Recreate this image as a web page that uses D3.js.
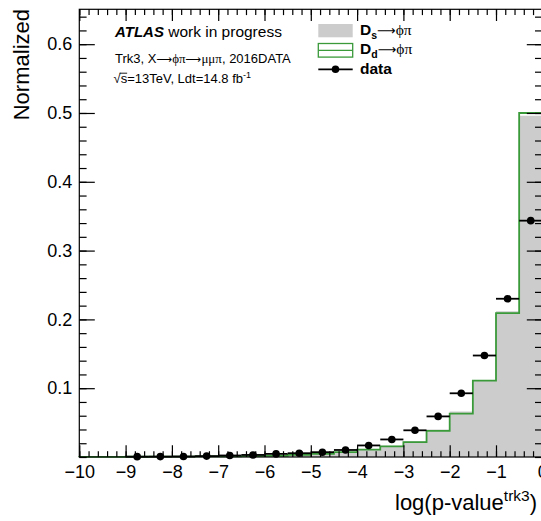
<!DOCTYPE html>
<html>
<head>
<meta charset="utf-8">
<script src="https://cdn.jsdelivr.net/npm/d3@7"></script>
<style>
  html, body { margin: 0; padding: 0; background: #fff; }
  svg { display: block; font-family: "Liberation Sans", Arial, Helvetica, sans-serif; }
  .arrow { font-family: "DejaVu Sans", sans-serif; }
  .greek { font-family: "Liberation Serif", "DejaVu Serif", serif; }
</style>
</head>
<body>
<svg id="chart" width="541" height="521"></svg>
<script>
// Bin lower edges of log(p-value^trk3), width 0.5
const binEdges = [-10, -9.5, -9, -8.5, -8, -7.5, -7, -6.5, -6, -5.5,
                  -5, -4.5, -4, -3.5, -3, -2.5, -2, -1.5, -1, -0.5];
const binWidth = 0.5;

// D_s -> phi pi (grey filled), normalized
const dsValues = [0.0002, 0.0002, 0.0003, 0.0004, 0.0005, 0.0007, 0.0009, 0.0013, 0.0020, 0.0030,
                  0.0048, 0.0075, 0.0115, 0.0165, 0.0230, 0.0400, 0.0660, 0.1120, 0.2120, 0.4960];

// D_d -> phi pi (green outline), normalized
const ddValues = [0.0002, 0.0003, 0.0004, 0.0005, 0.0006, 0.0008, 0.0010, 0.0013, 0.0017, 0.0030,
                  0.0045, 0.0072, 0.0108, 0.0155, 0.0215, 0.0380, 0.0630, 0.1110, 0.2090, 0.5000];

// data points (bin centres from -8.75 to -0.25)
const dataCenters = [-8.75, -8.25, -7.75, -7.25, -6.75, -6.25, -5.75, -5.25, -4.75,
                     -4.25, -3.75, -3.25, -2.75, -2.25, -1.75, -1.25, -0.75, -0.25];
const dataValues = [0.0005, 0.0006, 0.0008, 0.0013, 0.0022, 0.0030, 0.0045, 0.0055, 0.0070,
                    0.0102, 0.0168, 0.0255, 0.0388, 0.0590, 0.0926, 0.1475, 0.2300, 0.3435];

const xMajorTicks = [-10, -9, -8, -7, -6, -5, -4, -3, -2, -1, 0];
const yMajorTicks = [0.1, 0.2, 0.3, 0.4, 0.5, 0.6];

const svg = d3.select("#chart");
const frame = { left: 79.3, right: 542.3, top: 9.3, bottom: 457 };

const x = d3.scaleLinear().domain([-10, 0]).range([frame.left, frame.right]);
const y = d3.scaleLinear().domain([0, 0.6507]).range([frame.bottom, frame.top]);

const grey = "#cccccc";
const green = "#3a9a3a";

// step outline points for a histogram
function stepPoints(values) {
  const pts = [[binEdges[0], 0]];
  values.forEach((v, i) => pts.push([binEdges[i], v]));
  pts.push([binEdges[binEdges.length - 1] + binWidth, values[values.length - 1]]);
  pts.push([binEdges[binEdges.length - 1] + binWidth, 0]);
  return pts;
}

const plot = svg.append("g");

// grey filled D_s histogram
const area = d3.area()
  .x(d => x(d[0])).y0(y(0)).y1(d => y(d[1]))
  .curve(d3.curveStepAfter);
plot.append("path")
  .datum(stepPoints(dsValues))
  .attr("d", area)
  .attr("fill", grey)
  .attr("stroke", "none");

// green D_d outline
const line = d3.line()
  .x(d => x(d[0])).y(d => y(d[1]))
  .curve(d3.curveStepAfter);
plot.append("path")
  .datum(stepPoints(ddValues))
  .attr("d", line)
  .attr("fill", "none")
  .attr("stroke", green)
  .attr("stroke-width", 1.8);

// frame
svg.append("rect")
  .attr("x", frame.left).attr("y", frame.top)
  .attr("width", frame.right - frame.left).attr("height", frame.bottom - frame.top)
  .attr("fill", "none").attr("stroke", "#000").attr("stroke-width", 1.2);

const fontTick = 18;

function styleAxis(g) {
  g.select(".domain").remove();
  g.selectAll(".tick line").attr("stroke", "#000").attr("stroke-width", 1.2);
  g.selectAll("text").attr("font-size", fontTick).attr("fill", "#000")
    .attr("font-family", "Liberation Sans, Arial, Helvetica, sans-serif");
}

const fmtX = d => (d < 0 ? "\u2212" + Math.abs(d) : String(d));
const xMinor = d3.range(-10, 0.0001, 0.2).map(v => +v.toFixed(2));
const yMinor = d3.range(0, 0.6501, 0.02).map(v => +v.toFixed(2));

// bottom axis
svg.append("g").attr("transform", `translate(0,${frame.bottom})`)
  .call(d3.axisBottom(x).tickValues(xMinor).tickSize(-5.8).tickFormat(""))
  .call(styleAxis);
svg.append("g").attr("transform", `translate(0,${frame.bottom})`)
  .call(d3.axisBottom(x).tickValues(xMajorTicks).tickSizeInner(-11.7).tickSizeOuter(0)
        .tickPadding(8.5).tickFormat(fmtX))
  .call(styleAxis);

// top axis (ticks only)
svg.append("g").attr("transform", `translate(0,${frame.top})`)
  .call(d3.axisTop(x).tickValues(xMinor).tickSize(-5.8).tickFormat(""))
  .call(styleAxis);
svg.append("g").attr("transform", `translate(0,${frame.top})`)
  .call(d3.axisTop(x).tickValues(xMajorTicks).tickSize(-11.7).tickFormat(""))
  .call(styleAxis);

// left axis
svg.append("g").attr("transform", `translate(${frame.left},0)`)
  .call(d3.axisLeft(y).tickValues(yMinor).tickSize(-7.3).tickFormat(""))
  .call(styleAxis);
svg.append("g").attr("transform", `translate(${frame.left},0)`)
  .call(d3.axisLeft(y).tickValues(yMajorTicks).tickSizeInner(-15.5).tickSizeOuter(0)
        .tickPadding(7).tickFormat(d3.format(".1f")))
  .call(styleAxis);

// right axis (ticks only)
svg.append("g").attr("transform", `translate(${frame.right},0)`)
  .call(d3.axisRight(y).tickValues(yMinor).tickSize(-7.3).tickFormat(""))
  .call(styleAxis);
svg.append("g").attr("transform", `translate(${frame.right},0)`)
  .call(d3.axisRight(y).tickValues(yMajorTicks).tickSize(-15.5).tickFormat(""))
  .call(styleAxis);

// data points with bin-width horizontal bars
const dataG = svg.append("g");
dataCenters.forEach((c, i) => {
  dataG.append("line")
    .attr("x1", x(c - binWidth / 2)).attr("x2", x(c + binWidth / 2))
    .attr("y1", y(dataValues[i])).attr("y2", y(dataValues[i]))
    .attr("stroke", "#000").attr("stroke-width", 1.8);
  dataG.append("circle")
    .attr("cx", x(c)).attr("cy", y(dataValues[i]))
    .attr("r", 3.8).attr("fill", "#000");
});

// axis titles
svg.append("text")
  .attr("transform", "translate(29,9) rotate(-90)")
  .attr("text-anchor", "end")
  .attr("font-size", 22)
  .text("Normalized");

const xt = svg.append("text")
  .attr("x", 395).attr("y", 510)
  .attr("font-size", 22);
xt.append("tspan").text("log(p-value");
xt.append("tspan").attr("font-size", 15.5).attr("dy", -9).text("trk3");
xt.append("tspan").attr("dy", 9).text(")");

// label block
const l1 = svg.append("text").attr("x", 115).attr("y", 37.3).attr("font-size", 15.5);
l1.append("tspan").attr("font-weight", "bold").attr("font-style", "italic").attr("font-size", 15).text("ATLAS");
l1.append("tspan").text(" work in progress");

const l2 = svg.append("text").attr("x", 115).attr("y", 62.7).attr("font-size", 13);
l2.append("tspan").text("Trk3, X");
l2.append("tspan").attr("class", "arrow").attr("font-size", 11).text("\u27f6");
l2.append("tspan").attr("class", "greek").text("\u03d5\u03c0");
l2.append("tspan").attr("class", "arrow").attr("font-size", 11).text("\u27f6");
l2.append("tspan").attr("class", "greek").text("\u03bc\u03bc\u03c0");
l2.append("tspan").text(", 2016DATA");

const l3 = svg.append("text").attr("x", 113.5).attr("y", 83.3).attr("font-size", 13);
l3.append("tspan").text("\u221a");
l3.append("tspan").text("s=13TeV, Ldt=14.8 fb");
l3.append("tspan").attr("font-size", 9).attr("dy", -5).text("-1");
// bar over the "s" of the square root
{
  const node = l3.node();
  const e = node.getExtentOfChar(1);
  svg.append("line")
    .attr("x1", e.x - 1).attr("x2", e.x + e.width)
    .attr("y1", 73.2).attr("y2", 73.2)
    .attr("stroke", "#000").attr("stroke-width", 0.9);
}

// legend
const legX0 = 318.3, legX1 = 352.7, legTextX = 360;
svg.append("rect").attr("x", legX0).attr("y", 24).attr("width", legX1 - legX0).attr("height", 13.3)
  .attr("fill", grey);
svg.append("rect").attr("x", legX0).attr("y", 43.5).attr("width", legX1 - legX0).attr("height", 13.6)
  .attr("fill", "#fff").attr("stroke", green).attr("stroke-width", 1.3);
svg.append("line").attr("x1", legX0).attr("x2", legX1).attr("y1", 50.3).attr("y2", 50.3)
  .attr("stroke", green).attr("stroke-width", 1.3);
svg.append("line").attr("x1", legX0).attr("x2", legX1).attr("y1", 69.3).attr("y2", 69.3)
  .attr("stroke", "#000").attr("stroke-width", 1.8);
svg.append("circle").attr("cx", (legX0 + legX1) / 2).attr("cy", 69.3).attr("r", 3.8).attr("fill", "#000");

function legendDecay(yBase, sub) {
  const t = svg.append("text").attr("x", legTextX).attr("y", yBase).attr("font-size", 15.5);
  t.append("tspan").attr("font-weight", "bold").text("D");
  t.append("tspan").attr("font-weight", "bold").attr("font-size", 10.5).attr("dy", 3.5).text(sub);
  t.append("tspan").attr("class", "arrow").attr("font-size", 13).attr("dy", -3.5).text("\u27f6");
  t.append("tspan").attr("class", "greek").text("\u03d5\u03c0");
}
legendDecay(35, "s");
legendDecay(54.3, "d");
svg.append("text").attr("x", legTextX).attr("y", 74).attr("font-size", 15.5)
  .attr("font-weight", "bold").text("data");
</script>
</body>
</html>
